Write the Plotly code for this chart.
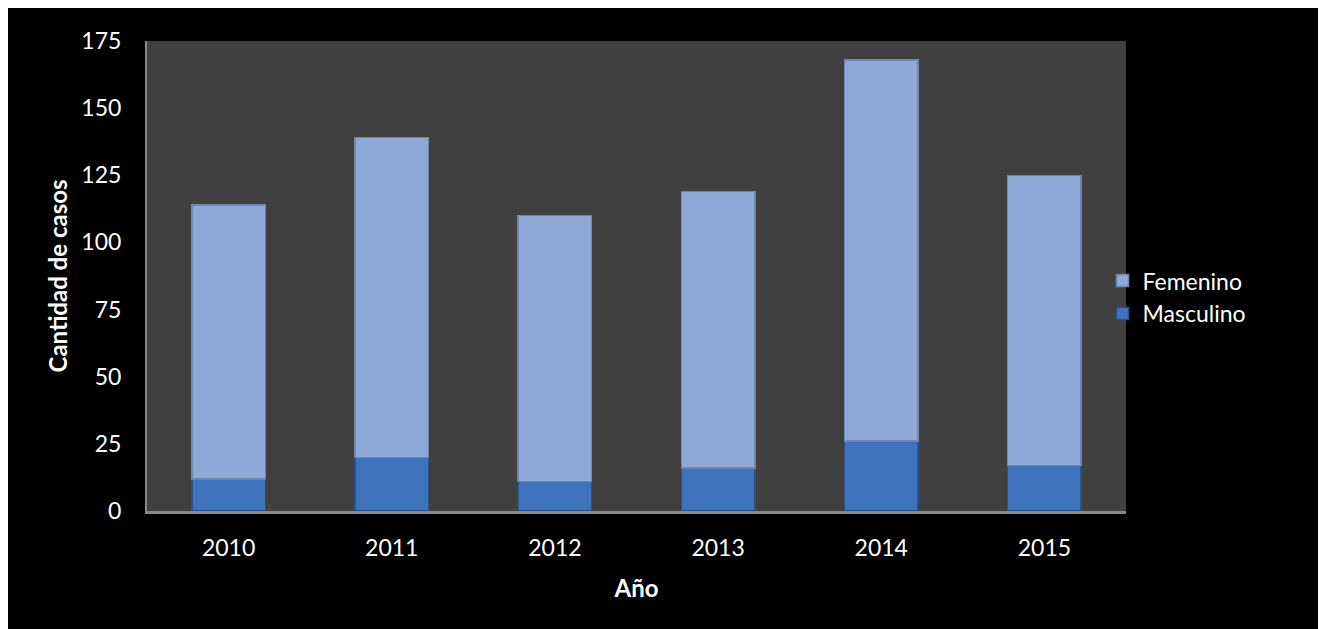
import plotly.graph_objects as go

years = ["2010", "2011", "2012", "2013", "2014", "2015"]
masculino = [12, 20, 11, 16, 26, 17]
femenino = [102, 119, 99, 103, 142, 108]
y_ticks = [0, 25, 50, 75, 100, 125, 150, 175]

FONT = "Lato"

fig = go.Figure()
fig.add_trace(go.Bar(
    x=years, y=masculino, name="Masculino",
    marker=dict(color="#3F74BC", line=dict(color="#2A5189", width=1.5)),
))
fig.add_trace(go.Bar(
    x=years, y=femenino, name="Femenino",
    marker=dict(color="#8EA9D8", line=dict(color="#6F86AE", width=1.5)),
))

fig.update_layout(
    width=1326, height=629,
    barmode="stack", bargap=0.55,
    paper_bgcolor="#000000", plot_bgcolor="#404040",
    margin=dict(l=139, r=208, t=33, b=126),
    font=dict(family=FONT, color="#FFFFFF", size=23),
    legend=dict(
        traceorder="reversed", x=0.976, xanchor="left", y=0.455, yanchor="middle",
        font=dict(family=FONT, size=23, color="#FFFFFF"),
        bgcolor="rgba(0,0,0,0)", itemwidth=30, tracegroupgap=0,
    ),
    showlegend=True,
)
fig.update_xaxes(
    showline=True, linecolor="#888888", linewidth=3,
    ticks="outside", ticklen=14, tickcolor="rgba(0,0,0,0)",
    tickfont=dict(size=23),
    title=dict(text="<b>Año</b>", font=dict(size=24), standoff=21),
)
fig.update_yaxes(
    range=[0, 175], tickvals=y_ticks, showgrid=False, zeroline=False,
    showline=True, linecolor="#888888", linewidth=2,
    ticks="outside", ticklen=19, tickcolor="rgba(0,0,0,0)",
    tickfont=dict(size=23),
    title=dict(text="<b>Cantidad de casos</b>", font=dict(size=24), standoff=7),
)

fig.write_html("out.html")
